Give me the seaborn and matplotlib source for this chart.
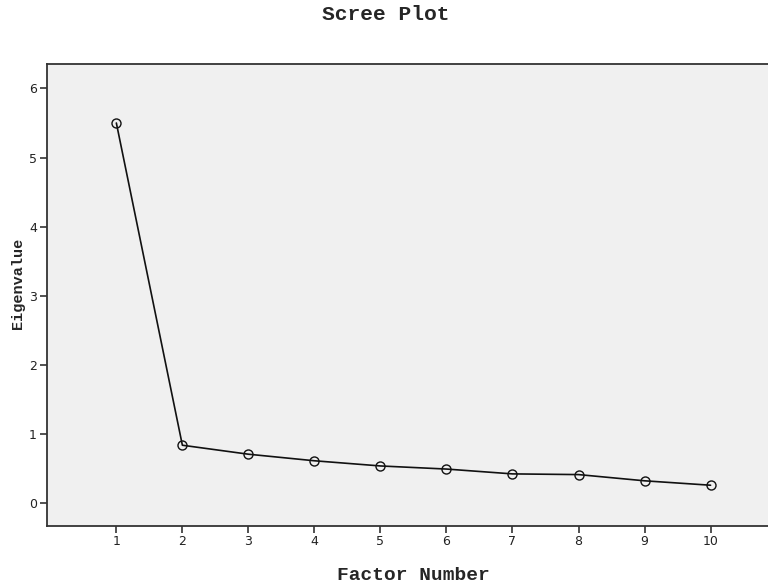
import matplotlib
matplotlib.use("Agg")
import matplotlib.pyplot as plt
import seaborn as sns
import pandas as pd

factors = [1, 2, 3, 4, 5, 6, 7, 8, 9, 10]
eigenvalues = [5.50, 0.835, 0.705, 0.61, 0.535, 0.49, 0.42, 0.41, 0.32, 0.256]
x_ticks = [1, 2, 3, 4, 5, 6, 7, 8, 9, 10]
y_ticks = [0, 1, 2, 3, 4, 5, 6]

df = pd.DataFrame({"Factor Number": factors, "Eigenvalue": eigenvalues})

sns.set_theme(style="ticks")
plt.rcParams['font.family'] = ['DejaVu Sans']

fig = plt.figure(figsize=(7.68, 5.86), dpi=100)
ax = fig.add_axes([0.0608, 0.1029, 0.9392, 0.7874])
ax.set_facecolor("#f0f0f0")

sns.lineplot(data=df, x="Factor Number", y="Eigenvalue", ax=ax, color="#111111",
             linewidth=1.2, marker="o", markersize=6.5, markerfacecolor="none",
             markeredgecolor="#111111", markeredgewidth=1.0)

ax.set_xlim(-0.055, 10.87)
ax.set_ylim(-0.33, 6.35)
ax.set_xticks(x_ticks)
ax.set_yticks(y_ticks)
ax.tick_params(axis="both", direction="out", length=5, width=1.2, color="#333333",
               labelsize=9, labelcolor="#222222", pad=2)
for s in ["left", "bottom", "top"]:
    ax.spines[s].set_linewidth(1.3)
    ax.spines[s].set_color("#333333")
ax.spines["right"].set_visible(False)
ax.set_xlabel("")
ax.set_ylabel("")

mono = ["Liberation Mono", "DejaVu Sans Mono"]
fig.text(413 / 768, 1 - 576 / 586, "Factor Number", fontsize=14, fontweight="bold",
         family=mono, ha="center", va="center")
fig.text(18 / 768, 1 - 283 / 586, "Eigenvalue", fontsize=11, fontweight="bold",
         family=mono, ha="center", va="center", rotation=90)
fig.text(386 / 768, 1 - 14 / 586, "Scree Plot", fontsize=15.3, fontweight="bold",
         family=mono, ha="center", va="center")

fig.savefig("out.png", dpi=100)
